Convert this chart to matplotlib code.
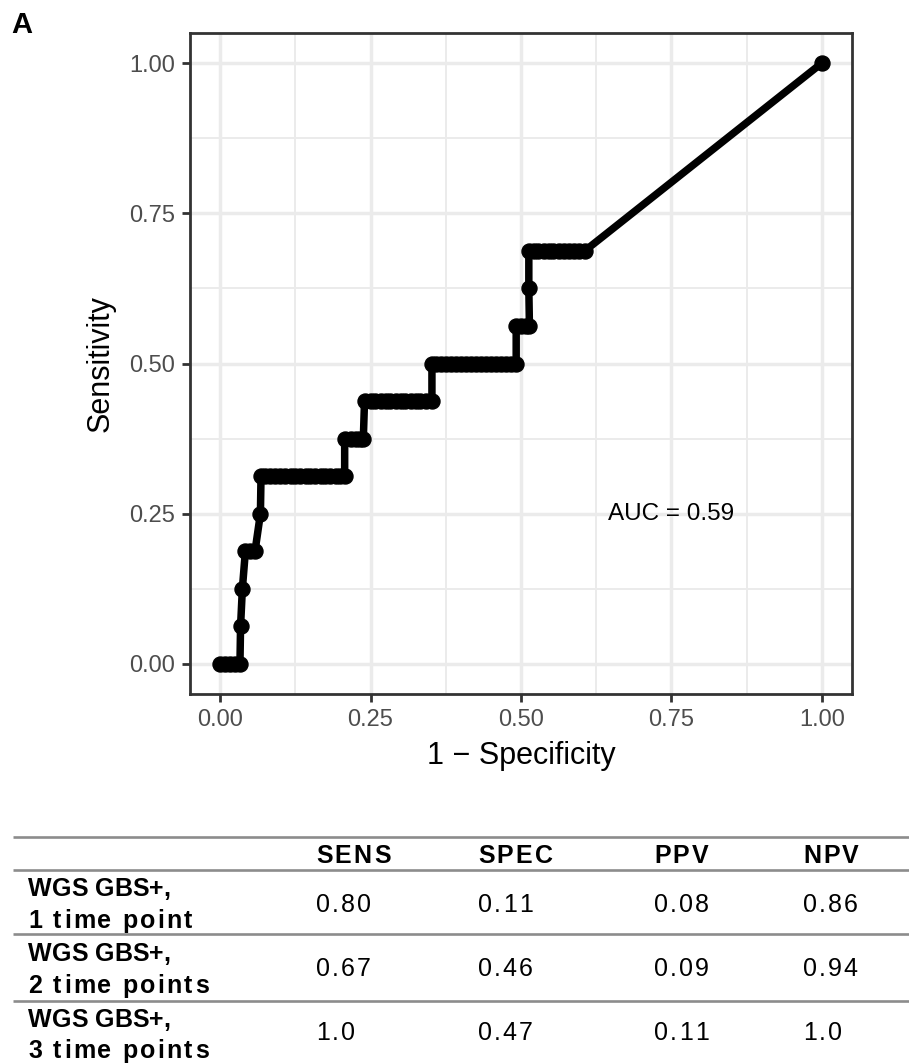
import matplotlib
matplotlib.use("Agg")
import matplotlib.pyplot as plt
from matplotlib.font_manager import FontProperties, findfont
from matplotlib.ft2font import FT2Font

# ---------------- data ----------------
fpr = [0.000, 0.008, 0.017, 0.025, 0.033,
       0.034,
       0.037,
       0.042, 0.050, 0.058,
       0.067,
       0.068, 0.075, 0.083, 0.092, 0.100, 0.108, 0.117, 0.125, 0.133, 0.142,
       0.150, 0.158, 0.167, 0.175, 0.183, 0.192, 0.200, 0.207,
       0.207, 0.217, 0.225, 0.233, 0.238,
       0.240, 0.250, 0.258, 0.267, 0.275, 0.283, 0.292, 0.300, 0.308, 0.317,
       0.325, 0.333, 0.342, 0.352,
       0.352, 0.358, 0.367, 0.375, 0.383, 0.392, 0.400, 0.408, 0.417, 0.425,
       0.433, 0.442, 0.450, 0.458, 0.467, 0.475, 0.483, 0.492,
       0.492, 0.500, 0.508, 0.514,
       0.513,
       0.513, 0.521, 0.529, 0.538, 0.546, 0.554, 0.563, 0.571, 0.579, 0.588,
       0.596, 0.606,
       1.000]
tpr = [0.0, 0.0, 0.0, 0.0, 0.0,
       0.0625,
       0.125,
       0.1875, 0.1875, 0.1875,
       0.25,
       0.3125, 0.3125, 0.3125, 0.3125, 0.3125, 0.3125, 0.3125, 0.3125, 0.3125, 0.3125,
       0.3125, 0.3125, 0.3125, 0.3125, 0.3125, 0.3125, 0.3125, 0.3125,
       0.375, 0.375, 0.375, 0.375, 0.375,
       0.4375, 0.4375, 0.4375, 0.4375, 0.4375, 0.4375, 0.4375, 0.4375, 0.4375, 0.4375,
       0.4375, 0.4375, 0.4375, 0.4375,
       0.5, 0.5, 0.5, 0.5, 0.5, 0.5, 0.5, 0.5, 0.5, 0.5,
       0.5, 0.5, 0.5, 0.5, 0.5, 0.5, 0.5, 0.5,
       0.5625, 0.5625, 0.5625, 0.5625,
       0.625,
       0.6875, 0.6875, 0.6875, 0.6875, 0.6875, 0.6875, 0.6875, 0.6875, 0.6875, 0.6875,
       0.6875, 0.6875,
       1.0]
auc_text = "AUC = 0.59"
ticks = [0.00, 0.25, 0.50, 0.75, 1.00]
tick_labels = ["0.00", "0.25", "0.50", "0.75", "1.00"]
minor_ticks = [0.125, 0.375, 0.625, 0.875]

table_headers = ["SENS", "SPEC", "PPV", "NPV"]
row_labels = [("WGS GBS+,", "1 time point"),
              ("WGS GBS+,", "2 time points"),
              ("WGS GBS+,", "3 time points")]
sens = ["0.80", "0.67", "1.0"]
spec = ["0.11", "0.46", "0.47"]
ppv = ["0.08", "0.09", "0.11"]
npv = ["0.86", "0.94", "1.0"]

# ---------------- figure ----------------
W, H = 909, 1063
fig = plt.figure(figsize=(W / 100, H / 100), dpi=100)
FAM = "Liberation Sans"

ax = fig.add_axes([190 / W, 1 - 694 / H, 662 / W, 661 / H])
ax.set_xlim(-0.05, 1.05)
ax.set_ylim(-0.05, 1.05)
ax.set_xticks(ticks)
ax.set_xticklabels(tick_labels)
ax.set_yticks(ticks)
ax.set_yticklabels(tick_labels)
ax.set_xticks(minor_ticks, minor=True)
ax.set_yticks(minor_ticks, minor=True)
ax.grid(which="major", color="#EBEBEB", linewidth=2.5, zorder=0)
ax.grid(which="minor", color="#EBEBEB", linewidth=1.4, zorder=0)
ax.set_axisbelow(True)
ax.tick_params(which="major", length=5.8, width=2.0, color="#333333",
               labelsize=17, labelcolor="#4D4D4D", pad=5)
ax.tick_params(which="minor", length=0)
for lab in ax.get_xticklabels() + ax.get_yticklabels():
    lab.set_fontfamily(FAM)
for sp in ax.spines.values():
    sp.set_color("#333333")
    sp.set_linewidth(2.0)

ax.plot(fpr, tpr, color="black", linewidth=5.4, marker="o", markersize=10.8,
        solid_capstyle="round", solid_joinstyle="round", zorder=3)
ax.text(0.75, 0.25, auc_text, ha="center", va="center", fontsize=17.5,
        family=FAM, color="black")
ax.set_xlabel("1 \u2212 Specificity", fontsize=22, family=FAM, labelpad=7)
ax.set_ylabel("Sensitivity", fontsize=22, family=FAM, labelpad=10)

fig.text(11.5 / W, 1 - 32.7 / H, "A", fontsize=21, fontweight="bold",
         family=FAM, ha="left", va="baseline")

# ---------------- table ----------------
at = fig.add_axes([0, 0, 1, 1], zorder=-1)
at.set_xlim(0, W)
at.set_ylim(H, 0)
at.axis("off")
at.patch.set_alpha(0)

_font_cache = {}


def spaced_text(x, y, s, size, weight, spacing):
    prop = FontProperties(family=FAM, weight=weight, size=size)
    path = findfont(prop)
    key = (path, size)
    if key not in _font_cache:
        f = FT2Font(path, hinting_factor=1)
        f.set_size(size, 100)
        _font_cache[key] = f
    f = _font_cache[key]
    cx = x
    for ch in s:
        if ch != " ":
            at.text(cx, y, ch, fontproperties=prop, ha="left", va="baseline",
                    color="black")
        g = f.load_char(ord(ch))
        cx += g.linearHoriAdvance / 65536 + spacing


line_ys = [836.5, 870, 934, 1000.5]
for yl in line_ys:
    at.plot([13, W], [yl, yl], color="#8C8C8C", linewidth=1.9,
            solid_capstyle="butt")

col_x = [316, 478, 654, 803]
TS = 18
for cx, htxt in zip(col_x, table_headers):
    spaced_text(cx, 863, htxt, TS, "bold", 2.2)

row_base = [(896, 928, 911.5), (961, 993, 976.5), (1027, 1058, 1040)]
cols = [sens, spec, ppv, npv]
for i, (l1, l2) in enumerate(row_labels):
    b1, b2, bv = row_base[i]
    spaced_text(28, b1, l1, TS, "bold", 0.0)
    spaced_text(28, b2, l2, TS, "bold", 2.2)
    for cx, col in zip(col_x, cols):
        spaced_text(cx, bv, col[i], TS, "normal", 2.0)

fig.savefig("out.png", dpi=100)
